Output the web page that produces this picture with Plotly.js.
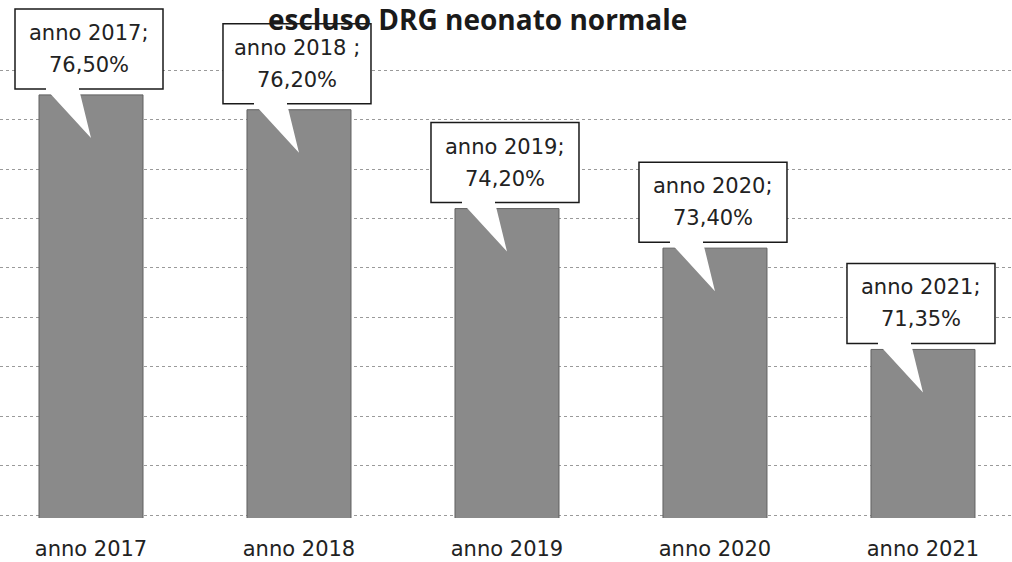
<!DOCTYPE html>
<html>
<head>
<meta charset="utf-8">
<script src="https://cdn.plot.ly/plotly-3.0.1.min.js"></script>
<style>html,body{margin:0;padding:0;background:#fff;}#chart{width:1012px;height:562px;}</style>
</head>
<body>
<div id="chart"></div>
<script>
const categories = ['anno 2017', 'anno 2018', 'anno 2019', 'anno 2020', 'anno 2021'];
const values = [76.50, 76.20, 74.20, 73.40, 71.35];
const calloutLabels = ['anno 2017;', 'anno 2018 ;', 'anno 2019;', 'anno 2020;', 'anno 2021;'];
const gridValues = [68, 69, 70, 71, 72, 73, 74, 75, 76, 77];
const titleText = 'escluso DRG neonato normale';

const LABEL_FONT = '"DejaVu Sans", Verdana, sans-serif';
const TITLE_FONT = '"Open Sans", sans-serif';
const fmt = v => v.toFixed(2).replace('.', ',') + '%';

const idx = categories.map((c, i) => i);

const trace = {
  type: 'bar',
  x: idx,
  y: values,
  width: 0.5,
  marker: {color: '#8a8a8a', line: {color: '#606060', width: 1}},
  hoverinfo: 'skip'
};

const shapes = [];
const annotations = [];
values.forEach((v, i) => {
  // bubble fill (box + pointer), pixel offsets anchored on the bar top
  shapes.push({
    type: 'path', xref: 'x', yref: 'y', xsizemode: 'pixel', ysizemode: 'pixel',
    xanchor: i, yanchor: v, layer: 'above',
    path: 'M -76,86 L 72,86 L 72,6 L -12,6 L 0,-43 L -45,6 L -76,6 Z',
    fillcolor: '#ffffff', line: {width: 0}
  });
  // bubble border with a gap where the pointer starts
  shapes.push({
    type: 'path', xref: 'x', yref: 'y', xsizemode: 'pixel', ysizemode: 'pixel',
    xanchor: i, yanchor: v, layer: 'above',
    path: 'M -12,6 L 72,6 L 72,86 L -76,86 L -76,6 L -45,6',
    fillcolor: 'rgba(0,0,0,0)', line: {color: '#1a1a1a', width: 1.5}
  });
  annotations.push({
    x: i, y: v, xref: 'x', yref: 'y', xshift: -2, yshift: 62,
    text: calloutLabels[i], showarrow: false, yanchor: 'middle',
    font: {family: LABEL_FONT, size: 21, color: '#222'}
  });
  annotations.push({
    x: i, y: v, xref: 'x', yref: 'y', xshift: -2, yshift: 30,
    text: fmt(v), showarrow: false, yanchor: 'middle',
    font: {family: LABEL_FONT, size: 21, color: '#222'}
  });
});

const layout = {
  width: 1012, height: 562,
  margin: {l: 0, r: 0, t: 0, b: 44, pad: 0},
  paper_bgcolor: '#ffffff', plot_bgcolor: '#ffffff',
  showlegend: false,
  title: {
    text: '<b>' + titleText + '</b>',
    font: {family: TITLE_FONT, size: 28, color: '#1a1a1a'},
    x: 0.472, xanchor: 'center', xref: 'paper',
    y: 0.964, yanchor: 'middle', yref: 'container'
  },
  xaxis: {
    range: [-0.4375, 4.428],
    tickvals: idx, ticktext: categories,
    showgrid: false, zeroline: false, showline: false, ticks: '',
    ticklabelstandoff: 16,
    tickfont: {family: LABEL_FONT, size: 21, color: '#222'}
  },
  yaxis: {
    range: [67.94, 78.42],
    tickvals: gridValues, showticklabels: false,
    showgrid: true, gridcolor: '#9a9a9a', gridwidth: 1, griddash: 'dot',
    zeroline: false, showline: false, ticks: ''
  },
  shapes: shapes,
  annotations: annotations
};

Plotly.newPlot('chart', [trace], layout, {displayModeBar: false, staticPlot: true});
</script>
</body>
</html>
